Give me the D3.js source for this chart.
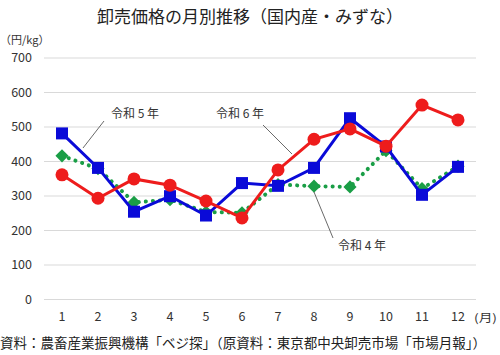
<!DOCTYPE html>
<html><head><meta charset="utf-8">
<script src="https://cdn.jsdelivr.net/npm/d3@7"></script>
<style>body{margin:0;background:#fff}svg{display:block}text{font-family:"Noto Sans CJK JP","Noto Sans",sans-serif}</style>
</head><body><svg id="c" width="500" height="355"></svg>
<script>
const months = ["1","2","3","4","5","6","7","8","9","10","11","12"];
const yTicks = [0,100,200,300,400,500,600,700];
const r4 = [415,378,280,288,252,250,332,327,325,430,320,385];
const r5 = [480,380,253,298,242,336,328,380,524,442,302,383];
const r6 = [360,292,348,330,284,235,374,463,493,443,562,519];
const seriesNames = ["令和４年","令和５年","令和６年"];

const svg = d3.select("#c");
const x = d3.scaleBand().domain(months).range([44,476]);
const y = d3.scaleLinear().domain([0,700]).range([299,57.5]);
const cx = m => x(m)+x.bandwidth()/2;

svg.append("text").attr("x",250).attr("y",23).attr("text-anchor","middle")
  .attr("font-size",17).attr("fill","#222").text("卸売価格の月別推移（国内産・みずな）");
svg.append("text").attr("x",0).attr("y",44).attr("font-size",11).attr("fill","#333").text("（円/kg）");

const ya = svg.append("g").attr("transform","translate(44,0)")
  .call(d3.axisLeft(y).tickValues(yTicks).tickSize(-432).tickPadding(12));
ya.select(".domain").remove();
ya.selectAll("line").attr("stroke","#d9d9d9");
ya.selectAll("text").attr("font-size",12.5).attr("fill","#333");

const xa = svg.append("g").attr("transform","translate(0,299)")
  .call(d3.axisBottom(x).tickSize(0).tickPadding(13));
xa.select(".domain").remove();
xa.selectAll("text").attr("font-size",12.5).attr("fill","#333");
svg.append("text").attr("x",474).attr("y",322).attr("font-size",11).attr("fill","#333")
  .attr("textLength",23).attr("lengthAdjust","spacingAndGlyphs").text("(月)");

const line = d3.line().x((d,i)=>cx(months[i])).y(d=>y(d));

// 令和4年 green dotted
svg.append("path").datum(r4).attr("d",line).attr("fill","none")
  .attr("stroke","#1a9e46").attr("stroke-width",4).attr("stroke-dasharray","0.1 7").attr("stroke-linecap","round");
svg.selectAll(".dia").data(r4).join("path")
  .attr("d",d3.symbol(d3.symbolDiamond2 || d3.symbolSquare,110)())
  .attr("transform",(d,i)=>`translate(${cx(months[i])},${y(d)})`)
  .attr("fill","#1a9e46");

// 令和5年 blue
svg.append("path").datum(r5).attr("d",line).attr("fill","none")
  .attr("stroke","#0a0ad8").attr("stroke-width",3);
svg.selectAll(".sq").data(r5).join("rect")
  .attr("x",(d,i)=>cx(months[i])-6).attr("y",d=>y(d)-6).attr("width",12).attr("height",12)
  .attr("fill","#0a0ad8");

// 令和6年 red
svg.append("path").datum(r6).attr("d",line).attr("fill","none")
  .attr("stroke","#ee1c1c").attr("stroke-width",3);
svg.selectAll(".ci").data(r6).join("circle")
  .attr("cx",(d,i)=>cx(months[i])).attr("cy",d=>y(d)).attr("r",6.5).attr("fill","#ee1c1c");

// annotations
const ann = [
  {t:"令和 5 年", tx:111, ty:118, x1:104, y1:121, x2:83, y2:148},
  {t:"令和 6 年", tx:216, ty:118, x1:263, y1:125, x2:292, y2:154},
  {t:"令和 4 年", tx:338, ty:250, x1:314, y1:192, x2:333, y2:238}
];
ann.forEach(a=>{
  svg.append("line").attr("x1",a.x1).attr("y1",a.y1).attr("x2",a.x2).attr("y2",a.y2)
    .attr("stroke","#444").attr("stroke-width",0.8);
  svg.append("text").attr("x",a.tx).attr("y",a.ty).attr("font-size",12).attr("fill","#333").text(a.t);
});

svg.append("text").attr("x",0).attr("y",348).attr("font-size",13.5).attr("fill","#222")
  .text("資料：農畜産業振興機構「ベジ探」（原資料：東京都中央卸売市場「市場月報」）");
</script></body></html>
